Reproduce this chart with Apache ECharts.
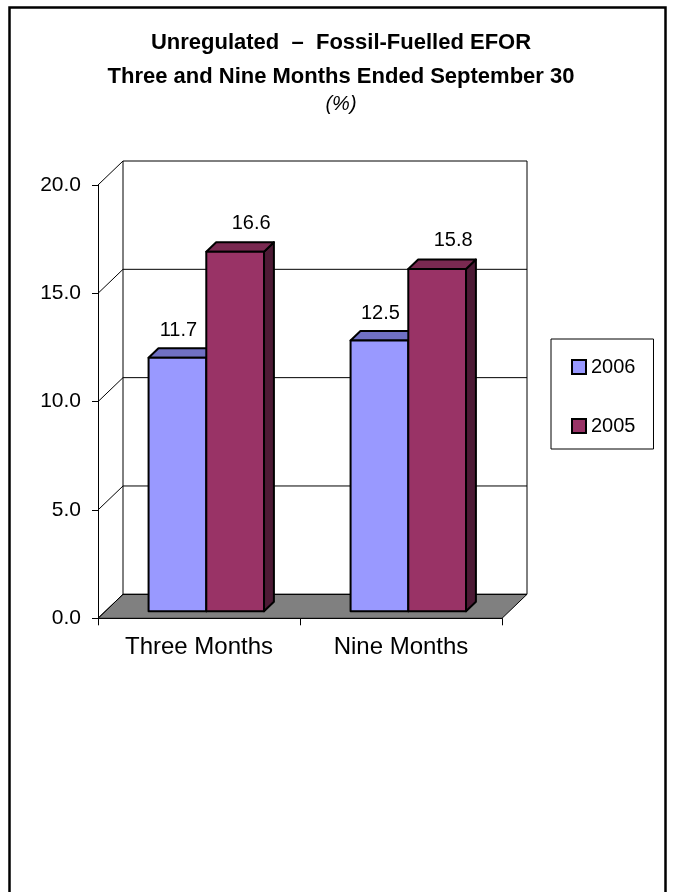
<!DOCTYPE html>
<html>
<head>
<meta charset="utf-8">
<script src="https://cdn.jsdelivr.net/npm/echarts@6/dist/echarts.min.js"></script>
<style>
html,body{margin:0;padding:0;background:#fff;}
#chart{width:673px;height:892px;}
</style>
</head>
<body>
<div id="chart"></div>
<script>
// ---- data ----
const categories = ['Three Months', 'Nine Months'];
const seriesNames = ['2006', '2005'];
const values2006 = [11.7, 12.5];
const values2005 = [16.6, 15.8];
const yTicks = [0, 5, 10, 15, 20];
const titleLines = ['Unregulated  \u2013  Fossil-Fuelled EFOR', 'Three and Nine Months Ended September 30', '(%)'];

// ---- style ----
const FONT = 'Liberation Sans, Arial, sans-serif';
const DX = 25, DY = 24;          // wall depth (px)
const BAR_FRONT = 7, BAR_BACK = 16.5; // bar depth range (px)
const colors = {
  '2006': { front: '#9999FF', top: '#7070C4', side: '#5C5C99' },
  '2005': { front: '#993366', top: '#7A2951', side: '#4D1A35' }
};
const labelShift = { '2006': [1, -27], '2005': [16, -28.5] };

function off(t) { return [t * DX / DY, -t]; }

function frameRender(params, api) {
  const band = api.size([1, 0])[0];
  const c0 = api.coord([0, 0]);
  const left = c0[0] - band / 2;
  const right = api.coord([categories.length - 1, 0])[0] + band / 2;
  const y0 = c0[1];
  const yTop = api.coord([0, yTicks[yTicks.length - 1]])[1];
  const ls = { stroke: '#000', lineWidth: 1 };
  const children = [];
  children.push({
    type: 'polygon',
    shape: { points: [[left, y0], [right, y0], [right + DX, y0 - DY], [left + DX, y0 - DY]] },
    style: { fill: '#808080', stroke: '#000', lineWidth: 1 }
  });
  yTicks.forEach(function (v) {
    const y = api.coord([0, v])[1];
    children.push({ type: 'line', shape: { x1: left, y1: y, x2: left + DX, y2: y - DY }, style: ls });
    children.push({ type: 'line', shape: { x1: left + DX, y1: y - DY, x2: right + DX, y2: y - DY }, style: ls });
  });
  children.push({ type: 'line', shape: { x1: left + DX, y1: yTop - DY, x2: left + DX, y2: y0 - DY }, style: ls });
  children.push({ type: 'line', shape: { x1: right + DX, y1: yTop - DY, x2: right + DX, y2: y0 - DY }, style: ls });
  return { type: 'group', children: children };
}

function barRender(idx, name) {
  const col = colors[name];
  return function (params, api) {
    const cat = api.value(0), v = api.value(1);
    const base = api.coord([cat, 0]);
    const top = api.coord([cat, v]);
    const band = api.size([1, 0])[0];
    const w = band / 3.5;
    const x0 = base[0] - w + idx * w;
    const x1 = x0 + w;
    const f = off(BAR_FRONT), b = off(BAR_BACK);
    const yt = top[1], yb = base[1];
    const st = { stroke: '#000', lineWidth: 2, lineJoin: 'round' };
    return {
      type: 'group',
      children: [
        { type: 'polygon', shape: { points: [[x1 + f[0], yt + f[1]], [x1 + b[0], yt + b[1]], [x1 + b[0], yb + b[1]], [x1 + f[0], yb + f[1]]] },
          style: Object.assign({ fill: col.side }, st) },
        { type: 'polygon', shape: { points: [[x0 + f[0], yt + f[1]], [x1 + f[0], yt + f[1]], [x1 + b[0], yt + b[1]], [x0 + b[0], yt + b[1]]] },
          style: Object.assign({ fill: col.top }, st) },
        { type: 'rect', shape: { x: x0 + f[0], y: yt + f[1], width: w, height: yb - yt },
          style: Object.assign({ fill: col.front }, st) },
        { type: 'text', x: (x0 + x1) / 2 + f[0] + labelShift[name][0], y: yt + f[1] + labelShift[name][1],
          style: { text: v.toFixed(1), fill: '#000', font: '20px ' + FONT, align: 'center', verticalAlign: 'middle' } }
      ]
    };
  };
}

const chart = echarts.init(document.getElementById('chart'), null, { renderer: 'canvas' });
const seriesValues = [values2006, values2005];

chart.setOption({
  backgroundColor: '#fff',
  animation: false,
  textStyle: { fontFamily: FONT },
  graphic: [
    { type: 'rect', shape: { x: 9.5, y: 7.5, width: 656, height: 900 }, style: { fill: 'none', stroke: '#000', lineWidth: 2.5 }, z: 100 },
    { type: 'text', x: 341, y: 43, style: { text: titleLines[0], font: 'bold 22px ' + FONT, fill: '#000', align: 'center', verticalAlign: 'middle' } },
    { type: 'text', x: 341, y: 76.5, style: { text: titleLines[1], font: 'bold 22px ' + FONT, fill: '#000', align: 'center', verticalAlign: 'middle' } },
    { type: 'text', x: 341, y: 104, style: { text: titleLines[2], font: 'italic 20px ' + FONT, fill: '#000', align: 'center', verticalAlign: 'middle' } }
  ],
  legend: {
    orient: 'vertical',
    left: 551, top: 339,
    padding: [18, 18, 13, 20],
    itemGap: 39,
    itemWidth: 14, itemHeight: 14,
    icon: 'rect',
    borderColor: '#000', borderWidth: 1,
    textStyle: { fontSize: 20, color: '#000', fontFamily: FONT, lineHeight: 20 },
    data: seriesNames.map(function (n) {
      return { name: n, itemStyle: { color: colors[n].front, borderColor: '#000', borderWidth: 2 } };
    })
  },
  grid: { left: 98, top: 185, width: 404, height: 433.3, containLabel: false },
  xAxis: {
    type: 'category',
    data: categories,
    boundaryGap: true,
    axisLine: { show: true, lineStyle: { color: '#000', width: 1 } },
    axisTick: { show: true, length: 7, inside: false, alignWithLabel: false, lineStyle: { color: '#000' } },
    axisLabel: { fontSize: 24, color: '#000', margin: 17, fontFamily: FONT, interval: 0 },
    splitLine: { show: false }
  },
  yAxis: {
    type: 'value',
    min: 0, max: 20, interval: 5,
    axisLine: { show: true, lineStyle: { color: '#000', width: 1 } },
    axisTick: { show: true, length: 6, inside: false, lineStyle: { color: '#000' } },
    axisLabel: { fontSize: 21, color: '#000', margin: 17, fontFamily: FONT, formatter: function (v) { return v.toFixed(1); } },
    splitLine: { show: false }
  },
  series: [
    { type: 'custom', name: 'frame', renderItem: frameRender, data: [[0, 0]], encode: { x: 0, y: 1 }, z: 1, silent: true, legendHoverLink: false }
  ].concat(seriesNames.map(function (n, i) {
    return {
      type: 'custom', name: n, z: 3 + i,
      itemStyle: { color: colors[n].front },
      renderItem: barRender(i, n),
      encode: { x: 0, y: 1 },
      data: seriesValues[i].map(function (v, k) { return [k, v]; })
    };
  }))
});
</script>
</body>
</html>
